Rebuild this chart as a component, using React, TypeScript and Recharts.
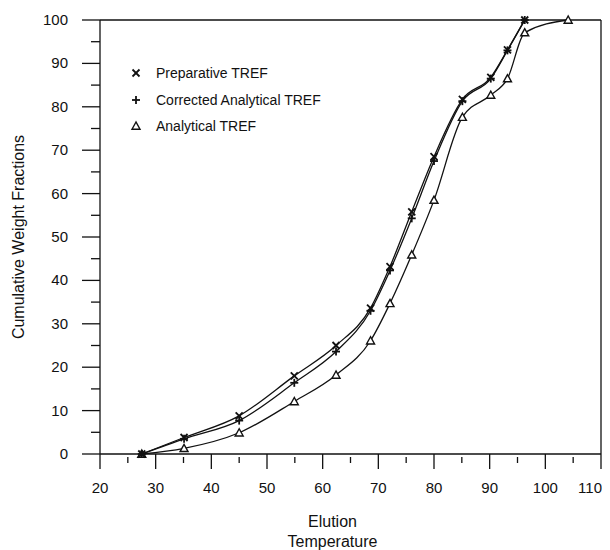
import React from "react";
import {
  LineChart,
  Line,
  XAxis,
  YAxis,
  ReferenceLine,
  Legend,
  Label,
} from "recharts";

const FONT = '"Liberation Sans", Arial, Helvetica, sans-serif';
const INK = "#111";

// elution temperatures (deg C) shared by the three curves
const temps = [27.5, 35.1, 45, 54.9, 62.4, 68.6, 72.1, 76.0, 80.0, 85.1, 90.2, 93.2, 96.3];
const tempsAnalytical = [27.5, 35.1, 45, 54.9, 62.4, 68.6, 72.1, 76.0, 80.0, 85.1, 90.2, 93.2, 96.3, 104.1];

const preparative = [0, 3.8, 8.8, 18, 25, 33.6, 43.2, 55.8, 68.5, 81.7, 86.8, 93.1, 100];
const correctedAnalytical = [0, 3.5, 7.7, 16.4, 23.6, 33, 42.3, 54.3, 67.5, 81.3, 86.5, 93, 100];
const analytical = [0, 1.3, 4.9, 12.1, 18.2, 26.1, 34.7, 45.9, 58.5, 77.6, 82.7, 86.5, 97.1, 100];

const xTicks = [20, 25, 30, 35, 40, 45, 50, 55, 60, 65, 70, 75, 80, 85, 90, 95, 100, 105, 110];
const yTicks = [0, 5, 10, 15, 20, 25, 30, 35, 40, 45, 50, 55, 60, 65, 70, 75, 80, 85, 90, 95, 100];

const prepData = temps.map((t, i) => ({ t, v: preparative[i] }));
const corrData = temps.map((t, i) => ({ t, v: correctedAnalytical[i] }));
const anaData = tempsAnalytical.map((t, i) => ({ t, v: analytical[i] }));

function CrossMark({ cx, cy }: { cx: number; cy: number }) {
  const s = 3.5;
  return (
    <g stroke={INK} strokeWidth={1.8}>
      <line x1={cx - s} y1={cy - s} x2={cx + s} y2={cy + s} />
      <line x1={cx - s} y1={cy + s} x2={cx + s} y2={cy - s} />
    </g>
  );
}

function PlusMark({ cx, cy }: { cx: number; cy: number }) {
  const s = 4;
  return (
    <g stroke={INK} strokeWidth={1.8}>
      <line x1={cx - s} y1={cy} x2={cx + s} y2={cy} />
      <line x1={cx} y1={cy - s} x2={cx} y2={cy + s} />
    </g>
  );
}

function TriMark({ cx, cy }: { cx: number; cy: number }) {
  const s = 4;
  return (
    <polygon
      points={`${cx},${cy - s} ${cx - s},${cy + s * 0.8} ${cx + s},${cy + s * 0.8}`}
      fill="#fff"
      stroke={INK}
      strokeWidth={1.4}
    />
  );
}

const XTick = (props: any) => {
  const { x, y, payload } = props;
  const major = payload.value % 10 === 0;
  // last label sits against the page edge, so keep it inside
  const last = payload.value === xTicks[xTicks.length - 1];
  return (
    <g>
      {major ? (
        <line x1={x} y1={y} x2={x} y2={y + 15} stroke={INK} strokeWidth={1.3} />
      ) : (
        <line x1={x} y1={y + 3} x2={x} y2={y + 9} stroke={INK} strokeWidth={1.3} />
      )}
      {major && (
        <text
          x={last ? x + 1 : x}
          y={y + 39}
          textAnchor={last ? "end" : "middle"}
          fontSize={15}
          fontFamily={FONT}
          fill={INK}
        >
          {payload.value}
        </text>
      )}
    </g>
  );
};

const YTick = (props: any) => {
  const { x, y, payload } = props;
  const major = payload.value % 10 === 0;
  return (
    <g>
      <line x1={x - (major ? 18 : 9)} y1={y} x2={x} y2={y} stroke={INK} strokeWidth={1.3} />
      {major && (
        <text x={x - 32} y={y + 5} textAnchor="end" fontSize={15} fontFamily={FONT} fill={INK}>
          {payload.value}
        </text>
      )}
    </g>
  );
};

const legendItems = [
  { name: "Preparative TREF", Mark: CrossMark },
  { name: "Corrected Analytical TREF", Mark: PlusMark },
  { name: "Analytical TREF", Mark: TriMark },
];

const renderLegend = () => (
  <div style={{ fontFamily: FONT, fontSize: 14, color: INK }}>
    {legendItems.map(({ name, Mark }, i) => (
      <div key={name} style={{ display: "flex", alignItems: "center", height: i === 0 ? 28 : 26 }}>
        <svg width={24} height={14}>
          <Mark cx={8} cy={7} />
        </svg>
        <span style={{ marginLeft: 4 }}>{name}</span>
      </div>
    ))}
  </div>
);

export default function App() {
  return (
    <LineChart
      width={594}
      height={542}
      margin={{ top: 12, right: 1, left: 0, bottom: 0 }}
      style={{ fontFamily: FONT }}
    >
      <XAxis
        type="number"
        dataKey="t"
        domain={[20, 110]}
        ticks={xTicks}
        interval={0}
        allowDuplicatedCategory={false}
        height={96}
        tickSize={0}
        tickMargin={0}
        tickLine={false}
        axisLine={{ stroke: INK, strokeWidth: 1.3 }}
        tick={<XTick />}
      >
        <Label
          content={(p: any) => {
            const vb = p.viewBox;
            const cx = vb.x + vb.width / 2 - 18;
            return (
              <text textAnchor="middle" fontSize={16} fontFamily={FONT} fill={INK}>
                <tspan x={cx} y={vb.y + 73}>Elution</tspan>
                <tspan x={cx} y={vb.y + 93}>Temperature</tspan>
              </text>
            );
          }}
        />
      </XAxis>
      <YAxis
        type="number"
        domain={[0, 100]}
        ticks={yTicks}
        interval={0}
        width={92}
        tickSize={0}
        tickMargin={0}
        tickLine={false}
        axisLine={{ stroke: INK, strokeWidth: 1.3 }}
        tick={<YTick />}
      >
        <Label
          content={(p: any) => {
            const vb = p.viewBox;
            const cx = vb.x + 16;
            const cy = vb.y + vb.height / 2;
            return (
              <text
                x={cx}
                y={cy}
                transform={`rotate(-90 ${cx} ${cy})`}
                textAnchor="middle"
                fontSize={16}
                fontFamily={FONT}
                fill={INK}
              >
                Cumulative Weight Fractions
              </text>
            );
          }}
        />
      </YAxis>
      <ReferenceLine y={100} stroke={INK} strokeWidth={1.3} />
      <ReferenceLine x={110} stroke={INK} strokeWidth={1.3} />
      <Legend
        layout="vertical"
        align="center"
        verticalAlign="middle"
        content={renderLegend}
        wrapperStyle={{ left: 120, top: 51, width: 260, height: 80 }}
      />
      <Line
        data={anaData}
        dataKey="v"
        name="Analytical TREF"
        type="monotone"
        stroke={INK}
        strokeWidth={1.3}
        dot={(p: any) => <TriMark key={`a-${p.index}`} cx={p.cx} cy={p.cy} />}
        isAnimationActive={false}
      />
      <Line
        data={corrData}
        dataKey="v"
        name="Corrected Analytical TREF"
        type="monotone"
        stroke={INK}
        strokeWidth={1.3}
        dot={(p: any) => <PlusMark key={`c-${p.index}`} cx={p.cx} cy={p.cy} />}
        isAnimationActive={false}
      />
      <Line
        data={prepData}
        dataKey="v"
        name="Preparative TREF"
        type="monotone"
        stroke={INK}
        strokeWidth={1.3}
        dot={(p: any) => <CrossMark key={`p-${p.index}`} cx={p.cx} cy={p.cy} />}
        isAnimationActive={false}
      />
    </LineChart>
  );
}
